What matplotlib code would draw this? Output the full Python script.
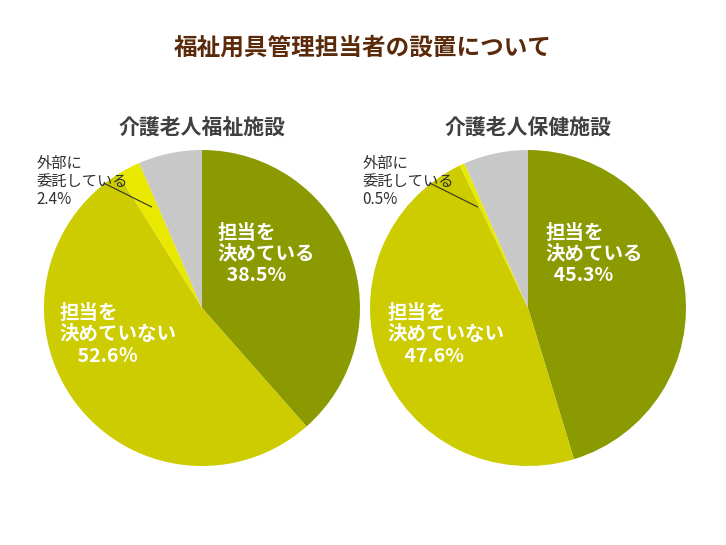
import matplotlib
matplotlib.use("Agg")
import matplotlib.pyplot as plt

plt.rcParams['font.family'] = ['Noto Sans CJK JP', 'DejaVu Sans']

title = "福祉用具管理担当者の設置について"
facilities = ["介護老人福祉施設", "介護老人保健施設"]
cats = ["担当を\n決めている", "担当を\n決めていない", "外部に\n委託している", "無回答"]
left_vals = [38.5, 52.6, 2.4, 6.5]
right_vals = [45.3, 47.6, 0.5, 6.6]
left_pct = ["38.5%", "52.6％", "2.4%"]
right_pct = ["45.3%", "47.6%", "0.5%"]
colors = ["#8a9a00", "#cccc00", "#e8e800", "#c8c8c8"]

fig = plt.figure(figsize=(7.26, 5.45), dpi=100)
fig.text(0.5, 0.912, title, ha='center', va='center', fontsize=17, fontweight='bold', color='#5a2a0a')

specs = [(202, left_vals, left_pct, facilities[0], (0.10, 0.34), (-0.90, -0.17)),
         (528, right_vals, right_pct, facilities[1], (0.11, 0.34), (-0.89, -0.17))]
for cx, vals, pct, name, p1, p2 in specs:
    r = 158
    ax = fig.add_axes([(cx - r) / 726, 1 - (308 + r) / 545, 2 * r / 726, 2 * r / 545])
    ax.pie(vals, colors=colors, startangle=90, counterclock=False, radius=1,
           wedgeprops=dict(linewidth=0))
    ax.set_xlim(-1, 1); ax.set_ylim(-1, 1); ax.set_aspect('equal'); ax.axis('off')
    fig.text(cx / 726, 1 - 128 / 545, name, ha='center', va='center', fontsize=15,
             fontweight='bold', color='#404040')
    ax.text(p1[0], p1[1], cats[0] + "\n  " + pct[0], ha='left', va='center', fontsize=14,
            fontweight='bold', color='white', linespacing=1.15)
    ax.text(p2[0], p2[1], cats[1] + "\n    " + pct[1], ha='left', va='center', fontsize=14,
            fontweight='bold', color='white', linespacing=1.15)
    ax.text(-1.05, 0.80, cats[2] + "\n" + pct[2], ha='left', va='center', fontsize=11,
            color='#303030', linespacing=1.05, clip_on=False)
    ax.plot([-0.62, -0.32], [0.79, 0.64], color='#303030', lw=0.8, clip_on=False)

fig.savefig("out.png", dpi=100)
